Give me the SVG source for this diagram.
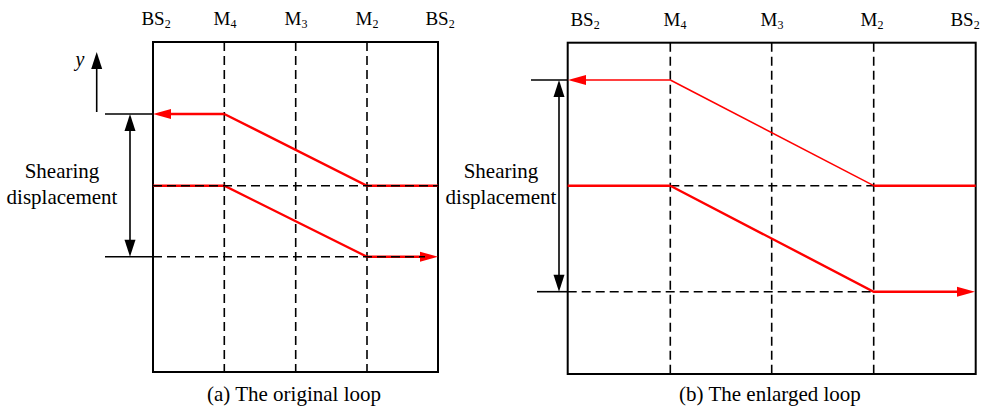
<svg xmlns="http://www.w3.org/2000/svg" width="997" height="410" viewBox="0 0 997 410">
<style>
text{font-family:"Liberation Serif","Times New Roman",serif;fill:#000}
.lbl{font-size:19px;text-anchor:middle}
.sub{font-size:12px}
.big{font-size:21px;text-anchor:middle}
.box{fill:none;stroke:#000;stroke-width:2}
.dash{fill:none;stroke:#000;stroke-width:1.6;stroke-dasharray:9 5}
.blk{fill:none;stroke:#000;stroke-width:1.6}
.red{fill:none;stroke:#f00;stroke-width:2.4}
.redt{fill:none;stroke:#f00;stroke-width:1.5}
</style>
<defs>
<marker id="ra" markerUnits="userSpaceOnUse" markerWidth="20" markerHeight="12" refX="10" refY="5" orient="auto" overflow="visible">
<path d="M0,0 L18,5 L0,10 Z" fill="#f00"/>
</marker>
<marker id="ba" markerUnits="userSpaceOnUse" markerWidth="20" markerHeight="12" refX="9" refY="5.5" orient="auto" overflow="visible">
<path d="M0,0 L17,5.5 L0,11 Z" fill="#000"/>
</marker>
</defs>

<g id="panel-a">
<g id="a-frame">
<rect class="box" x="153" y="42" width="285" height="330"/>
<line class="dash" x1="224.3" y1="42" x2="224.3" y2="372"/>
<line class="dash" x1="295.7" y1="42" x2="295.7" y2="372"/>
<line class="dash" x1="367" y1="42" x2="367" y2="372"/>
</g>
<g id="a-labels">
<text class="lbl" x="156" y="25">BS<tspan class="sub" dy="3">2</tspan></text>
<text class="lbl" x="225" y="25">M<tspan class="sub" dy="3">4</tspan></text>
<text class="lbl" x="296" y="25">M<tspan class="sub" dy="3">3</tspan></text>
<text class="lbl" x="367" y="25">M<tspan class="sub" dy="3">2</tspan></text>
<text class="lbl" x="440" y="25">BS<tspan class="sub" dy="3">2</tspan></text>
<text x="80" y="66" style="font-size:20px;font-style:italic;text-anchor:middle">y</text>
<text class="big" x="62" y="178">Shearing</text>
<text class="big" x="62" y="204">displacement</text>
<text class="big" x="294" y="401">(a) The original loop</text>
</g>
<g id="a-connectors">
<path class="red" d="M224.3,114 L161,114" marker-end="url(#ra)"/>
<path class="red" d="M224.3,114 L367,185.7 L438,185.7"/>
<path class="red" d="M153,185.7 L224.3,185.7 L367,256.7 L430,256.7" marker-end="url(#ra)"/>
<line class="dash" x1="153" y1="185.7" x2="438" y2="185.7"/>
<line class="dash" x1="153" y1="256.7" x2="425" y2="256.7"/>
<line class="blk" x1="105" y1="114" x2="153" y2="114"/>
<line class="blk" x1="105" y1="256.7" x2="153" y2="256.7"/>
<path class="blk" d="M96.7,112 L96.7,60" marker-end="url(#ba)"/>
<path class="blk" d="M130,185 L130,122" marker-end="url(#ba)"/>
<path class="blk" d="M130,185 L130,248.7" marker-end="url(#ba)"/>
</g>
</g>

<g id="panel-b">
<g id="b-frame">
<rect class="box" x="567.7" y="42.7" width="408" height="331.3"/>
<line class="dash" x1="670.3" y1="42.7" x2="670.3" y2="374"/>
<line class="dash" x1="771.7" y1="42.7" x2="771.7" y2="374"/>
<line class="dash" x1="873.7" y1="42.7" x2="873.7" y2="374"/>
</g>
<g id="b-labels">
<text class="lbl" x="585" y="26">BS<tspan class="sub" dy="3">2</tspan></text>
<text class="lbl" x="675" y="26">M<tspan class="sub" dy="3">4</tspan></text>
<text class="lbl" x="772" y="26">M<tspan class="sub" dy="3">3</tspan></text>
<text class="lbl" x="872" y="26">M<tspan class="sub" dy="3">2</tspan></text>
<text class="lbl" x="965" y="26">BS<tspan class="sub" dy="3">2</tspan></text>
<text class="big" x="501" y="178">Shearing</text>
<text class="big" x="501" y="204">displacement</text>
<text class="big" x="770" y="401">(b) The enlarged loop</text>
</g>
<g id="b-connectors">
<line class="dash" x1="670.3" y1="185.7" x2="873.7" y2="185.7"/>
<line class="dash" x1="567.7" y1="291.7" x2="873.7" y2="291.7"/>
<path class="redt" d="M670.3,80 L576,80" marker-end="url(#ra)"/>
<path class="redt" d="M670.3,80 L873.7,185.7"/>
<path class="red" d="M873.7,185.7 L975.7,185.7"/>
<path class="red" d="M567.7,185.7 L670.3,185.7"/>
<path class="red" d="M670.3,185.7 L873.7,291.7 L967,291.7" marker-end="url(#ra)"/>
<line class="blk" x1="531" y1="80" x2="567.7" y2="80"/>
<line class="blk" x1="537" y1="291.7" x2="567.7" y2="291.7"/>
<path class="blk" d="M559,186 L559,88" marker-end="url(#ba)"/>
<path class="blk" d="M559,186 L559,283.7" marker-end="url(#ba)"/>
</g>
</g>
</svg>
